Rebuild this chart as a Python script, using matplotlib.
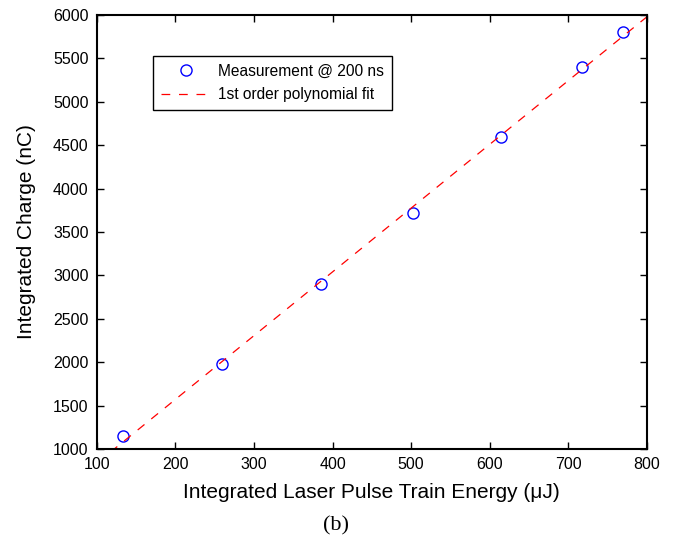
import matplotlib.pyplot as plt
import numpy as np

energy = np.array([133, 259, 385, 502, 615, 717, 770])
charge = np.array([1150, 1980, 2900, 3720, 4600, 5400, 5800])

plt.rcParams['font.family'] = ['Liberation Sans', 'DejaVu Sans']

fig = plt.figure(figsize=(6.73, 5.42), dpi=100)
ax = fig.add_axes([0.144, 0.1716, 0.817, 0.8007])

m, b = np.polyfit(energy, charge, 1)
xfit = np.linspace(100, 800, 200)

ax.plot(energy, charge, 'o', mfc='none', mec='blue', ms=8, mew=1.0,
        label='Measurement @ 200 ns')
ax.plot(xfit, m * xfit + b, '--', color='red', lw=0.9, dashes=(7, 7),
        label='1st order polynomial fit')

ax.set_xlim(100, 800)
ax.set_ylim(1000, 6000)
ax.set_xticks(np.arange(100, 801, 100))
ax.set_yticks(np.arange(1000, 6001, 500))
ax.tick_params(direction='in', top=True, right=True, labelsize=11.5, length=5, width=1)
ax.tick_params(axis='x', pad=6)
ax.tick_params(axis='y', pad=6)
for s in ax.spines.values():
    s.set_linewidth(1.5)

ax.set_xlabel('Integrated Laser Pulse Train Energy (\u03bcJ)', fontsize=15, labelpad=8)
ax.set_ylabel('Integrated Charge (nC)', fontsize=15, labelpad=12)

leg = ax.legend(loc='upper left', bbox_to_anchor=(0.102, 0.906), fontsize=11.2,
                fancybox=False, edgecolor='black', framealpha=1,
                handlelength=3.2, handletextpad=0.5, borderpad=0.5,
                labelspacing=0.55, borderaxespad=0)
leg.get_frame().set_linewidth(1.0)

fig.text(0.5, 0.022, '(b)', ha='center', fontsize=16, family='Liberation Serif')

fig.savefig('out.png', dpi=100)
